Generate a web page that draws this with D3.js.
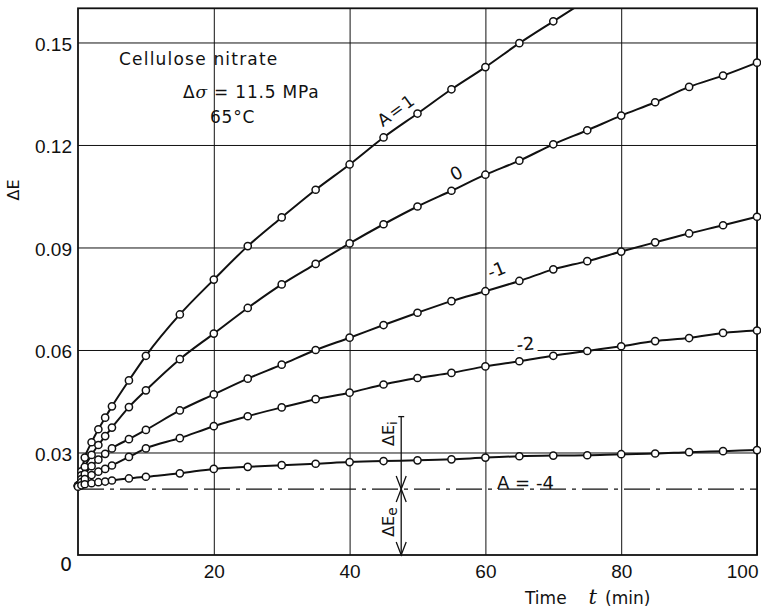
<!DOCTYPE html>
<html>
<head>
<meta charset="utf-8">
<script src="https://cdn.jsdelivr.net/npm/d3@7"></script>
<style>
body { margin: 0; background: #fff; }
svg { display: block; font-family: "DejaVu Sans", sans-serif; }
</style>
</head>
<body>
<svg id="chart" width="761" height="611"></svg>
<script>
// Sampling times (min)
const times = [0, 0.5, 1, 2, 3, 4, 5, 7.5, 10, 15, 20, 25, 30, 35, 40, 45, 50, 55, 60, 65, 70, 75, 80, 85, 90, 95, 100];

// Delta E, one array per A value
const dE_A1 = [0.0203, 0.0245, 0.0285, 0.0330, 0.0368, 0.0402, 0.0435, 0.0511, 0.0583, 0.0704, 0.0806, 0.0904, 0.0988, 0.1069, 0.1143, 0.1222, 0.1292, 0.1363, 0.1428, 0.1498, 0.1562, 0.1625];
const dE_A0 = [0.0203, 0.0233, 0.0258, 0.0293, 0.0322, 0.0348, 0.0373, 0.0433, 0.0482, 0.0573, 0.0648, 0.0723, 0.0792, 0.0852, 0.0912, 0.0968, 0.1020, 0.1066, 0.1113, 0.1154, 0.1202, 0.1243, 0.1286, 0.1325, 0.1370, 0.1403, 0.1441];
const dE_Am1 = [0.0203, 0.0222, 0.0237, 0.0260, 0.0279, 0.0296, 0.0312, 0.0339, 0.0366, 0.0423, 0.0470, 0.0516, 0.0557, 0.0600, 0.0636, 0.0673, 0.0709, 0.0743, 0.0772, 0.0802, 0.0836, 0.0860, 0.0888, 0.0915, 0.0941, 0.0965, 0.0990];
const dE_Am2 = [0.0203, 0.0213, 0.0222, 0.0234, 0.0244, 0.0252, 0.0262, 0.0287, 0.0312, 0.0342, 0.0377, 0.0406, 0.0432, 0.0456, 0.0475, 0.0499, 0.0518, 0.0533, 0.0552, 0.0567, 0.0583, 0.0597, 0.0611, 0.0626, 0.0635, 0.0650, 0.0657];
const dE_Am4 = [0.0200, 0.0204, 0.0207, 0.0210, 0.0213, 0.0215, 0.0218, 0.0224, 0.0229, 0.0239, 0.0252, 0.0258, 0.0263, 0.0267, 0.0272, 0.0275, 0.0277, 0.0280, 0.0285, 0.0289, 0.0291, 0.0292, 0.0295, 0.0297, 0.0301, 0.0304, 0.0307];

const seriesList = [dE_A1, dE_A0, dE_Am1, dE_Am2, dE_Am4];

// Ticks
const xTicks = [20, 40, 60, 80, 100];
const yTicks = [0.03, 0.06, 0.09, 0.12, 0.15];

// Elastic part level, and where the dE_i / dE_e marker sits
const elasticLevel = 0.0193;
const markerTime = 47.6;
const markerTop = 0.0405;

// Curve labels: text, time, dE, rotation
const curveLabels = [
    ["A=1", 46.9, 0.1303, -36],
    ["0", 55.7, 0.1118, -28],
    ["-1", 61.6, 0.0835, -22],
    ["-2", 65.9, 0.0618, -6],
    ["A = -4", 65.9, 0.0194, 0],
];

const svg = d3.select("#chart");
const yTop = 0.16;
const x = d3.scaleLinear().domain([0, 100]).range([78, 757]);
const y = d3.scaleLinear().domain([0, yTop]).range([555, 8.3]);

// Grid + tick labels
const gx = svg.append("g")
    .attr("transform", `translate(0,${y(0)})`)
    .call(d3.axisBottom(x).tickValues(xTicks).tickSize(-(y(0) - y(yTop))).tickPadding(10).tickFormat(d3.format("d")));
gx.select(".domain").remove();
gx.selectAll("line").attr("stroke", "#111").attr("stroke-width", 1);
gx.selectAll("text").attr("font-size", 19).attr("fill", "#111");
gx.selectAll(".tick").filter(d => d === 100).select("text").attr("text-anchor", "end").attr("x", 1);

const gy = svg.append("g")
    .attr("transform", `translate(${x(0)},0)`)
    .call(d3.axisLeft(y).tickValues(yTicks).tickSize(-(x(100) - x(0))).tickPadding(6).tickFormat(d => d.toFixed(2)));
gy.select(".domain").remove();
gy.selectAll("line").attr("stroke", "#111").attr("stroke-width", 1);
gy.selectAll("text").attr("font-size", 19).attr("fill", "#111").attr("dy", "0.42em");

// Origin label
svg.append("text")
    .attr("x", x(0) - 12).attr("y", y(0) + 16)
    .attr("text-anchor", "middle")
    .attr("font-size", 19).attr("fill", "#111")
    .text("0");

// Frame
svg.append("rect")
    .attr("x", x(0)).attr("y", y(yTop))
    .attr("width", x(100) - x(0)).attr("height", y(0) - y(yTop))
    .attr("fill", "none").attr("stroke", "#111").attr("stroke-width", 1.8);

// Elastic level (dash-dot)
svg.append("line")
    .attr("x1", x(0)).attr("x2", x(100))
    .attr("y1", y(elasticLevel)).attr("y2", y(elasticLevel))
    .attr("stroke", "#111").attr("stroke-width", 1.2)
    .attr("stroke-dasharray", "26,6,4,6");

// Clip curves at the top edge
svg.append("clipPath").attr("id", "plotClip")
    .append("rect")
    .attr("x", 0).attr("y", y(yTop))
    .attr("width", 761).attr("height", 611 - y(yTop));

const line = d3.line()
    .x(d => x(d[0]))
    .y(d => y(d[1]))
    .curve(d3.curveMonotoneX);

const curves = svg.append("g").attr("clip-path", "url(#plotClip)");

seriesList.forEach(vals => {
    const pts = vals.map((v, i) => [times[i], v]);
    curves.append("path")
        .datum(pts)
        .attr("d", line)
        .attr("fill", "none")
        .attr("stroke", "#111")
        .attr("stroke-width", 2);
    curves.selectAll(null)
        .data(pts)
        .enter()
        .append("circle")
        .attr("cx", d => x(d[0]))
        .attr("cy", d => y(d[1]))
        .attr("r", 3.6)
        .attr("fill", "#fff")
        .attr("stroke", "#111")
        .attr("stroke-width", 1.5);
});

// Curve labels
svg.selectAll(".curveLabel")
    .data(curveLabels)
    .enter()
    .append("text")
    .attr("class", "curveLabel")
    .attr("transform", d => `translate(${x(d[1])},${y(d[2])}) rotate(${d[3]})`)
    .attr("text-anchor", "middle")
    .attr("dy", d => d[3] === 0 ? 0 : "0.36em")
    .attr("font-size", d => d[0] === "A=1" ? 17 : 18)
    .attr("letter-spacing", d => d[0] === "A=1" ? 2 : 0)
    .attr("fill", "#111")
    .attr("stroke", d => d[0] === "-2" ? "#fff" : "none")
    .attr("stroke-width", 8)
    .attr("paint-order", "stroke")
    .text(d => d[0]);

// dE_i / dE_e marker
const mx = x(markerTime);
const mark = svg.append("g").attr("stroke", "#111").attr("stroke-width", 1.3).attr("fill", "none");
mark.append("line").attr("x1", mx).attr("x2", mx).attr("y1", y(markerTop)).attr("y2", y(0));
mark.append("line").attr("x1", mx - 3).attr("x2", mx + 3).attr("y1", y(markerTop)).attr("y2", y(markerTop));
function arrowHead(tipY, dir) {
    mark.append("path")
        .attr("d", `M${mx - 5},${tipY - dir * 13}L${mx},${tipY}L${mx + 5},${tipY - dir * 13}`);
}
arrowHead(y(elasticLevel), 1);
arrowHead(y(elasticLevel), -1);
arrowHead(y(0), 1);

svg.append("text")
    .attr("transform", `translate(${mx - 7},${(y(markerTop) + y(0.0305)) / 2}) rotate(-90)`)
    .attr("text-anchor", "middle")
    .attr("font-size", 16).attr("fill", "#111")
    .text("ΔE")
    .append("tspan").attr("font-size", 12).attr("dy", 3).text("i");

svg.append("text")
    .attr("transform", `translate(${mx - 7},${(y(elasticLevel) + y(0)) / 2}) rotate(-90)`)
    .attr("text-anchor", "middle")
    .attr("font-size", 16).attr("fill", "#111")
    .text("ΔE")
    .append("tspan").attr("font-size", 14).attr("dy", 3).text("e");

// Condition block
const info = svg.append("g").attr("fill", "#111").attr("font-size", 17);
info.append("text").attr("x", 119).attr("y", 65).attr("letter-spacing", 1.2).text("Cellulose  nitrate");
info.append("text").attr("x", 183).attr("y", 98).attr("letter-spacing", 0.8)
    .text("Δ")
    .append("tspan").attr("font-style", "italic").attr("font-family", "DejaVu Serif").text("σ")
    .append("tspan").attr("font-style", "normal").attr("font-family", "DejaVu Sans").text(" = 11.5  MPa");
info.append("text").attr("x", 210).attr("y", 123).attr("letter-spacing", 0.8).text("65°C");

// Axis titles
svg.append("text")
    .attr("transform", "translate(19,190) rotate(-90)")
    .attr("text-anchor", "middle")
    .attr("font-size", 16).attr("fill", "#111")
    .text("ΔE");

const xt = svg.append("text").attr("x", 525).attr("y", 604).attr("font-size", 17).attr("fill", "#111");
xt.append("tspan").text("Time");
xt.append("tspan").attr("dx", 22).attr("font-family", "DejaVu Serif").attr("font-style", "italic").attr("font-size", 21).text("t");
xt.append("tspan").attr("dx", 8).text("(min)");
</script>
</body>
</html>
